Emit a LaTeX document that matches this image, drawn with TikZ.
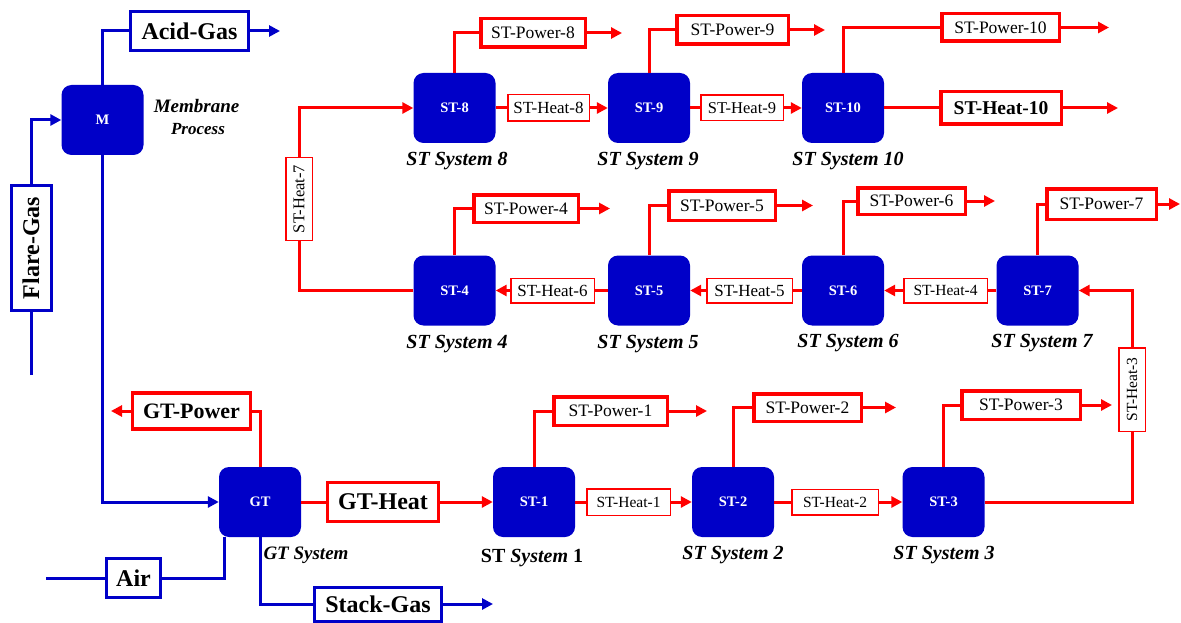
\documentclass[tikz,border=0pt]{standalone}
\usepackage{fontspec}
\setmainfont{Liberation Serif}
\usetikzlibrary{arrows.meta,calc}
\definecolor{bblue}{RGB}{0,0,200}
\definecolor{rred}{RGB}{255,0,0}
\newcommand{\myfs}[1]{\fontsize{#1}{#1}\selectfont}
\begin{document}
\begin{tikzpicture}[x=1pt,y=-1pt,
  unit/.style={fill=bblue, rounded corners=10pt, minimum width=82pt, minimum height=70pt, inner sep=0pt, text=white, font=\myfs{14.5}\bfseries},
  bluebox/.style={draw=bblue, line width=3pt, fill=white, inner sep=0pt, font=\myfs{24}\bfseries},
  pwr/.style={draw=rred, line width=3.5pt, fill=white, inner sep=0pt, font=\myfs{17.5}},
  heat/.style={draw=rred, line width=1.5pt, fill=white, inner sep=0pt, font=\myfs{15.5}},
  bigred/.style={draw=rred, line width=3.5pt, fill=white, inner sep=0pt, font=\myfs{24}\bfseries},
  sysl/.style={anchor=base, font=\myfs{20}\bfseries\itshape},
  bl/.style={draw=bblue, line width=3pt},
  rl/.style={draw=rred, line width=3pt},
  barr/.style={-{Triangle[length=11pt,width=11pt]}},
]
\useasboundingbox (0,0) rectangle (1181,623);

% ---------- blue side ----------
\node[unit] (M) at (102.5,120) {M};
\node[anchor=base, font=\myfs{19}\bfseries\itshape] (memb) at (196.5,113) {Membrane};
\node[anchor=base, font=\myfs{17}\bfseries\itshape] (proc) at (198,135) {Process};
\node[bluebox, minimum width=118pt, minimum height=39pt] (acid) at (189.5,31) {Acid-Gas};
\node[bluebox, rotate=90, minimum width=125pt, minimum height=40pt] (flare) at (31,248) {Flare-Gas};
\node[unit] (GT) at (260,502) {GT};
\node[anchor=base, font=\myfs{19}\bfseries\itshape] (gtsys) at (306,559) {GT System};
\node[bluebox, minimum width=54pt, minimum height=39pt] (air) at (133.5,578) {Air};
\node[bluebox, minimum width=127pt, minimum height=34pt] (stack) at (378,604) {Stack-Gas};

\coordinate (acidE) at (280,31);
\coordinate (flareS) at (31,375);
\coordinate (airS) at (46,578);
\coordinate (stackE) at (493,604);

% ---------- GT outputs ----------
\node[bigred, minimum width=118pt, minimum height=36pt, font=\myfs{22}\bfseries] (gtp) at (191.5,411) {GT-Power};
\node[bigred, minimum width=111pt, minimum height=39pt] (gth) at (383,502) {GT-Heat};
\coordinate (gtpE) at (111,411);

% ---------- bottom ST row ----------
\node[unit] (ST1) at (534,502) {ST-1};
\node[unit] (ST2) at (733,502) {ST-2};
\node[unit] (ST3) at (943.5,502) {ST-3};
\node[heat, minimum width=83.5pt, minimum height=26.5pt] (h1) at (628.5,502) {ST-Heat-1};
\node[heat, minimum width=86.5pt, minimum height=25.5pt] (h2) at (835,502) {ST-Heat-2};
\node[heat, rotate=90, minimum width=83.5pt, minimum height=26.5pt] (h3) at (1132,389.5) {ST-Heat-3};
\node[pwr, minimum width=113.5pt, minimum height=28.5pt] (p1) at (610.5,411) {ST-Power-1};
\node[pwr, minimum width=107.5pt, minimum height=27.5pt] (p2) at (807.5,407.5) {ST-Power-2};
\node[pwr, minimum width=118.5pt, minimum height=28.5pt] (p3) at (1021,405) {ST-Power-3};
\node[anchor=base, font=\myfs{20}\bfseries] (l1) at (532,562) {ST \textit{System} 1};
\node[sysl] (l2) at (733,559) {ST System 2};
\node[sysl] (l3) at (944,559) {ST System 3};
\coordinate (p1E) at (707,411);
\coordinate (p2E) at (896,407.5);
\coordinate (p3E) at (1112,405);

% ---------- middle ST row ----------
\node[unit] (ST4) at (454.5,290.5) {ST-4};
\node[unit] (ST5) at (649,290.5) {ST-5};
\node[unit] (ST6) at (843,290.5) {ST-6};
\node[unit] (ST7) at (1037.5,290.5) {ST-7};
\node[heat, minimum width=83.5pt, minimum height=24.5pt, font=\myfs{17}] (h6) at (552.5,290.5) {ST-Heat-6};
\node[heat, minimum width=85.5pt, minimum height=24.5pt, font=\myfs{17}] (h5) at (749.5,290.5) {ST-Heat-5};
\node[heat, minimum width=83.5pt, minimum height=24.5pt] (h4) at (945.5,290.5) {ST-Heat-4};
\node[heat, rotate=90, minimum width=82.5pt, minimum height=26.5pt, font=\myfs{16.5}] (h7) at (299,199) {ST-Heat-7};
\node[pwr, minimum width=104.5pt, minimum height=27.5pt] (p4) at (526,208.5) {ST-Power-4};
\node[pwr, minimum width=106.5pt, minimum height=29.5pt] (p5) at (722,205.5) {ST-Power-5};
\node[pwr, minimum width=107.5pt, minimum height=26.5pt] (p6) at (911.5,201) {ST-Power-6};
\node[pwr, minimum width=109.5pt, minimum height=30.5pt] (p7) at (1101.5,204) {ST-Power-7};
\node[sysl] (l4) at (457,348) {ST System 4};
\node[sysl] (l5) at (648,348) {ST System 5};
\node[sysl] (l6) at (848,347) {ST System 6};
\node[sysl] (l7) at (1042,347) {ST System 7};
\coordinate (p4E) at (610,208.5);
\coordinate (p5E) at (813,205.5);
\coordinate (p6E) at (995,201);
\coordinate (p7E) at (1180,204);

% ---------- top ST row ----------
\node[unit] (ST8) at (454.5,108) {ST-8};
\node[unit] (ST9) at (649,108) {ST-9};
\node[unit] (ST10) at (843,108) {ST-10};
\node[heat, minimum width=81.5pt, minimum height=26.5pt, font=\myfs{17}] (h8) at (548.5,108) {ST-Heat-8};
\node[heat, minimum width=82.5pt, minimum height=25.5pt, font=\myfs{16.5}] (h9) at (742,108) {ST-Heat-9};
\node[bigred, minimum width=120.5pt, minimum height=32.5pt, font=\myfs{19.5}\bfseries] (h10) at (1001,108) {ST-Heat-10};
\node[pwr, minimum width=104.5pt, minimum height=28.5pt] (p8) at (533,33) {ST-Power-8};
\node[pwr, minimum width=111.5pt, minimum height=28.5pt] (p9) at (732.5,30) {ST-Power-9};
\node[pwr, minimum width=117.5pt, minimum height=27.5pt] (p10) at (1000.5,27.5) {ST-Power-10};
\node[sysl] (l8) at (457,165) {ST System 8};
\node[sysl] (l9) at (648,165) {ST System 9};
\node[sysl] (l10) at (848,165) {ST System 10};
\coordinate (p8E) at (622,33);
\coordinate (p9E) at (825,30);
\coordinate (p10E) at (1109,27.5);
\coordinate (h10E) at (1118,108);

% ---------- blue connectors ----------
\draw[bl] (M.north) |- (acid.west);
\draw[bl, barr] (acid.east) -- (acidE);
\draw[bl] (flareS) -- (flare.west);
\draw[bl, barr] (flare.east) |- (M.west);
\draw[bl, barr] (M.south) |- (GT.west);
\draw[bl] (airS) -- (air.west);
\draw[bl] (air.east) -| ([xshift=6pt]GT.south west);
\draw[bl] (GT.south) |- (stack.west);
\draw[bl, barr] (stack.east) -- (stackE);

% ---------- red connectors ----------
\draw[rl] (GT.north) |- (gtp.east);
\draw[rl, barr] (gtp.west) -- (gtpE);
\draw[rl] (GT.east) -- (gth.west);
\draw[rl, barr] (gth.east) -- (ST1.west);

\draw[rl] (ST1.east) -- (h1.west);
\draw[rl, barr] (h1.east) -- (ST2.west);
\draw[rl] (ST2.east) -- (h2.west);
\draw[rl, barr] (h2.east) -- (ST3.west);
\draw[rl] (ST3.east) -| (h3.west);
\draw[rl, barr] (h3.east) |- (ST7.east);

\draw[rl] (ST1.north) |- (p1.west);
\draw[rl, barr] (p1.east) -- (p1E);
\draw[rl] (ST2.north) |- (p2.west);
\draw[rl, barr] (p2.east) -- (p2E);
\draw[rl] (ST3.north) |- (p3.west);
\draw[rl, barr] (p3.east) -- (p3E);

\draw[rl] (ST7.west) -- (h4.east);
\draw[rl, barr] (h4.west) -- (ST6.east);
\draw[rl] (ST6.west) -- (h5.east);
\draw[rl, barr] (h5.west) -- (ST5.east);
\draw[rl] (ST5.west) -- (h6.east);
\draw[rl, barr] (h6.west) -- (ST4.east);
\draw[rl] (ST4.west) -| (h7.west);
\draw[rl, barr] (h7.east) |- (ST8.west);

\draw[rl] (ST4.north) |- (p4.west);
\draw[rl, barr] (p4.east) -- (p4E);
\draw[rl] (ST5.north) |- (p5.west);
\draw[rl, barr] (p5.east) -- (p5E);
\draw[rl] (ST6.north) |- (p6.west);
\draw[rl, barr] (p6.east) -- (p6E);
\draw[rl] (ST7.north) |- (p7.west);
\draw[rl, barr] (p7.east) -- (p7E);

\draw[rl] (ST8.east) -- (h8.west);
\draw[rl, barr] (h8.east) -- (ST9.west);
\draw[rl] (ST9.east) -- (h9.west);
\draw[rl, barr] (h9.east) -- (ST10.west);
\draw[rl] (ST10.east) -- (h10.west);
\draw[rl, barr] (h10.east) -- (h10E);

\draw[rl] (ST8.north) |- (p8.west);
\draw[rl, barr] (p8.east) -- (p8E);
\draw[rl] (ST9.north) |- (p9.west);
\draw[rl, barr] (p9.east) -- (p9E);
\draw[rl] (ST10.north) |- (p10.west);
\draw[rl, barr] (p10.east) -- (p10E);
\end{tikzpicture}
\end{document}
